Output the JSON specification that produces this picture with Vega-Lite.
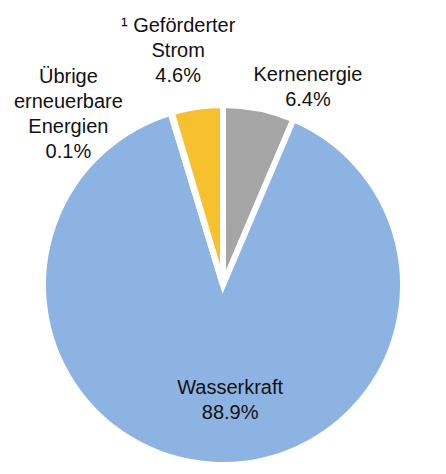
{
  "$schema": "https://vega.github.io/schema/vega-lite/v6.json",
  "width": 446,
  "height": 378,
  "autosize": "none",
  "padding": {"top": 96, "bottom": 0, "left": 0, "right": 0},
  "background": "white",
  "config": {"view": {"stroke": null}, "text": {"font": "Liberation Sans", "fontSize": 20, "color": "#111111", "lineBreak": "\n", "lineHeight": 25}},
  "data": {"values": [
    {"quelle": "Kernenergie", "anteil": 6.4, "ordnung": 1, "label": "Kernenergie\n6.4%"},
    {"quelle": "Wasserkraft", "anteil": 88.9, "ordnung": 2, "label": "Wasserkraft\n88.9%"},
    {"quelle": "Übrige erneuerbare Energien", "anteil": 0.1, "ordnung": 3, "label": "Übrige\nerneuerbare\nEnergien\n0.1%"},
    {"quelle": "Geförderter Strom", "anteil": 4.6, "ordnung": 4, "label": "¹ Geförderter\nStrom\n4.6%"}
  ]},
  "encoding": {
    "theta": {"field": "anteil", "type": "quantitative", "stack": true},
    "order": {"field": "ordnung", "type": "quantitative"}
  },
  "layer": [
    {
      "mark": {"type": "arc", "outerRadius": 180, "stroke": "white", "strokeWidth": 6},
      "encoding": {
        "color": {"field": "quelle", "type": "nominal", "legend": null,
          "scale": {"domain": ["Kernenergie", "Wasserkraft", "Übrige erneuerbare Energien", "Geförderter Strom"],
                    "range": ["#a6a6a6", "#8db3e2", "#0e5a2a", "#f7c12e"]}}
      }
    },
    {
      "mark": {"type": "text", "radius": 200, "dx": 45, "dy": -14},
      "encoding": {"text": {"condition": {"test": "datum.quelle === 'Kernenergie'", "field": "label"}, "value": ""}}
    },
    {
      "mark": {"type": "text", "radius": 235, "dx": -11, "dy": -26},
      "encoding": {"text": {"condition": {"test": "datum.quelle === 'Geförderter Strom'", "field": "label"}, "value": ""}}
    },
    {
      "mark": {"type": "text", "radius": 200, "dx": -97, "dy": -16},
      "encoding": {"text": {"condition": {"test": "datum.quelle === 'Übrige erneuerbare Energien'", "field": "label"}, "value": ""}}
    },
    {
      "mark": {"type": "text", "radius": 110, "dx": 13, "dy": -7},
      "encoding": {"text": {"condition": {"test": "datum.quelle === 'Wasserkraft'", "field": "label"}, "value": ""}}
    }
  ]
}
